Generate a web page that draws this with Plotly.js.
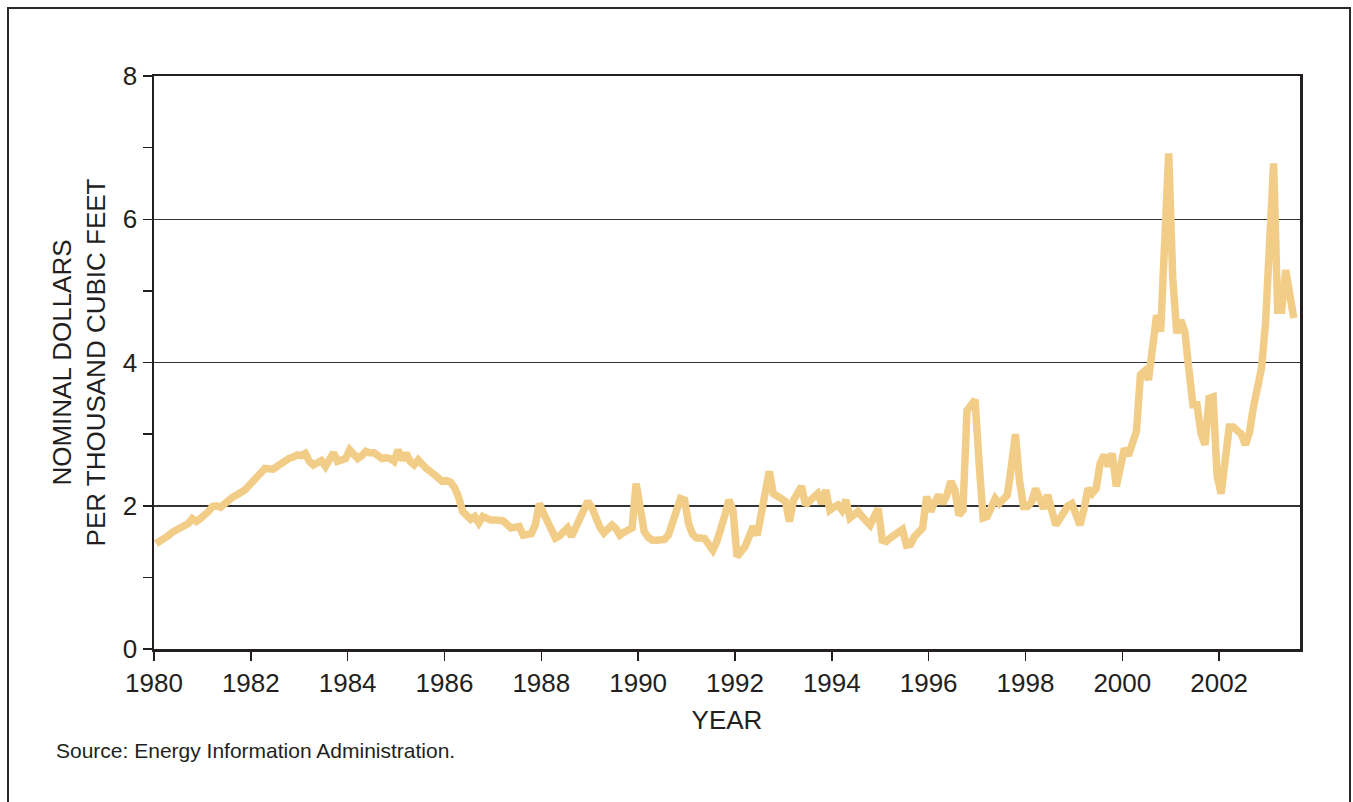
<!DOCTYPE html>
<html>
<head>
<meta charset="utf-8">
<script src="https://cdn.plot.ly/plotly-3.0.1.min.js"></script>
<style>
  html, body { margin: 0; padding: 0; background: #ffffff; }
  #wrap { position: relative; width: 1353px; height: 802px; }
  #frame { position: absolute; left: 7px; top: 7px; width: 1344px; height: 800px; border: 2px solid #2a2a2a; box-sizing: border-box; pointer-events: none; }
  #chart { position: absolute; left: 0; top: 0; width: 1353px; height: 802px; }
</style>
</head>
<body>
<div id="wrap">
  <div id="chart"></div>
  <div id="frame"></div>
</div>
<script>
// Monthly natural gas prices, nominal dollars per thousand cubic feet (Jan 1980 - Jul 2003)
const startYear = 1980;
const p1980 = [1.47,1.50,1.54,1.58,1.63,1.66,1.69,1.72,1.75,1.82,1.78,1.82];
const p1981 = [1.86,1.92,1.99,2.00,1.98,2.03,2.10,2.12,2.15,2.18,2.22,2.28];
const p1982 = [2.33,2.40,2.46,2.52,2.52,2.51,2.55,2.59,2.64,2.66,2.68,2.71];
const p1983 = [2.70,2.73,2.62,2.57,2.60,2.63,2.55,2.66,2.74,2.62,2.65,2.66];
const p1984 = [2.78,2.72,2.66,2.70,2.76,2.74,2.74,2.70,2.66,2.67,2.66,2.62];
const p1985 = [2.78,2.64,2.73,2.62,2.57,2.64,2.57,2.52,2.48,2.43,2.38,2.34];
const p1986 = [2.35,2.33,2.25,2.12,1.92,1.86,1.81,1.85,1.76,1.85,1.82,1.80];
const p1987 = [1.80,1.80,1.79,1.74,1.69,1.70,1.71,1.59,1.60,1.61,1.73,2.03];
const p1988 = [1.90,1.80,1.65,1.55,1.58,1.64,1.69,1.57,1.68,1.80,1.93,2.06];
const p1989 = [1.98,1.83,1.70,1.62,1.68,1.73,1.68,1.59,1.63,1.66,1.69,2.31];
const p1990 = [1.97,1.64,1.56,1.52,1.52,1.53,1.53,1.59,1.76,1.95,2.10,2.08];
const p1991 = [1.75,1.60,1.55,1.55,1.54,1.46,1.38,1.50,1.66,1.87,2.08,1.94];
const p1992 = [1.29,1.36,1.43,1.57,1.71,1.59,1.92,2.15,2.48,2.17,2.12,2.10];
const p1993 = [2.06,1.78,2.08,2.18,2.27,2.01,2.08,2.12,2.17,2.03,2.22,1.94];
const p1994 = [1.98,2.01,1.94,2.08,1.83,1.87,1.92,1.85,1.78,1.73,1.85,1.96];
const p1995 = [1.52,1.50,1.55,1.60,1.64,1.67,1.45,1.46,1.57,1.64,1.69,2.13];
const p1996 = [1.92,2.05,2.15,2.03,2.15,2.34,2.22,1.87,1.94,3.33,3.40,3.48];
const p1997 = [2.60,1.83,1.85,1.98,2.10,2.03,2.10,2.15,2.55,3.00,2.36,1.99];
const p1998 = [1.99,2.05,2.24,2.10,1.96,2.15,1.95,1.73,1.82,1.92,2.00,2.03];
const p1999 = [1.90,1.73,1.95,2.24,2.17,2.24,2.59,2.71,2.55,2.73,2.27,2.55];
const p2000 = [2.80,2.70,2.90,3.04,3.83,3.88,3.76,4.32,4.66,4.43,5.80,6.92];
const p2001 = [5.18,4.41,4.59,4.43,3.90,3.41,3.41,3.01,2.85,3.50,3.52,2.41];
const p2002 = [2.17,2.60,3.10,3.10,3.05,3.00,2.85,3.02,3.38,3.65,3.92,4.55];
const p2003 = [5.60,6.78,4.73,4.73,5.29,4.87,4.62];

const yearTicks = [1980,1982,1984,1986,1988,1990,1992,1994,1996,1998,2000,2002];
const yearTickText = ["1980","1982","1984","1986","1988","1990","1992","1994","1996","1998","2000","2002"];
const priceTicks = [0,2,4,6,8];
const priceTickText = ["0","2","4","6","8"];

const prices = [].concat(p1980,p1981,p1982,p1983,p1984,p1985,p1986,p1987,p1988,p1989,
  p1990,p1991,p1992,p1993,p1994,p1995,p1996,p1997,p1998,p1999,p2000,p2001,p2002,p2003);
// month positions (mid-month) on a decimal-year axis
const months = prices.map((v, i) => startYear + (i + 0.5) / 12);

const FONT = 'Liberation Sans, Arial, Helvetica, sans-serif';
const INK = '#231f20';

const trace = {
  type: 'scatter',
  mode: 'lines',
  x: months,
  y: prices,
  line: { color: '#f2cd88', width: 7.5, shape: 'linear' },
  hoverinfo: 'x+y',
  showlegend: false
};

const layout = {
  width: 1353,
  height: 802,
  margin: { l: 154, r: 53, t: 76, b: 153, pad: 0 },
  paper_bgcolor: 'rgba(0,0,0,0)',
  plot_bgcolor: '#ffffff',
  font: { family: FONT, size: 26, color: INK },
  showlegend: false,
  xaxis: {
    range: [1980, 2003.67],
    tickmode: 'array',
    tickvals: yearTicks,
    ticktext: yearTickText,
    ticks: 'outside',
    ticklen: 9,
    tickwidth: 1.5,
    tickcolor: INK,
    showgrid: false,
    zeroline: false,
    showline: true,
    linecolor: INK,
    linewidth: 2.5,
    mirror: true,
    tickfont: { family: FONT, size: 26, color: INK },
    title: { text: 'YEAR', font: { family: FONT, size: 26, color: INK }, standoff: 14 },
    automargin: false,
    fixedrange: true
  },
  yaxis: {
    range: [0, 8],
    tickmode: 'array',
    tickvals: priceTicks,
    ticktext: priceTickText,
    ticks: 'outside',
    ticklen: 9,
    tickwidth: 1.5,
    tickcolor: INK,
    minor: { dtick: 1, tick0: 0, ticks: 'outside', ticklen: 9, tickwidth: 1.5, tickcolor: INK, showgrid: false },
    showgrid: true,
    gridcolor: '#333333',
    gridwidth: 1.5,
    zeroline: false,
    showline: true,
    linecolor: INK,
    linewidth: 2.5,
    mirror: true,
    tickfont: { family: FONT, size: 26, color: INK },
    title: { text: 'NOMINAL DOLLARS<br>PER THOUSAND CUBIC FEET', font: { family: FONT, size: 26, color: INK }, standoff: 10 },
    automargin: false,
    fixedrange: true
  },
  annotations: [
    {
      text: 'Source: Energy Information Administration.',
      xref: 'paper', yref: 'paper',
      x: -0.087, y: -0.178,
      xanchor: 'left', yanchor: 'middle',
      showarrow: false,
      font: { family: FONT, size: 21, color: INK }
    }
  ]
};

Plotly.newPlot('chart', [trace], layout, { displayModeBar: false, staticPlot: true });
</script>
</body>
</html>
